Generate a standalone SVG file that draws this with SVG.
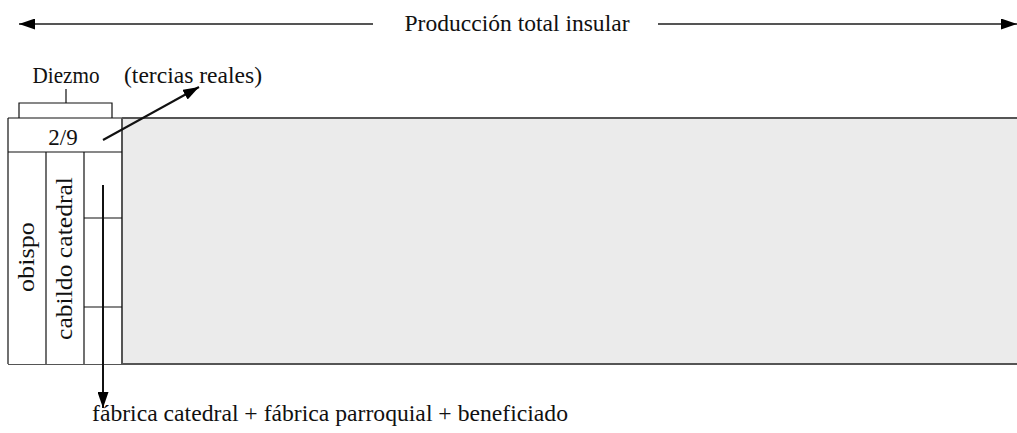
<svg xmlns="http://www.w3.org/2000/svg" width="1017" height="433" viewBox="0 0 1017 433">
<defs>
<style>
text{font-family:"Liberation Serif","DejaVu Serif",serif;fill:#111;}
.t{font-size:23px;}
.frame{stroke:#555;stroke-width:2;fill:none;}
.thin{stroke:#111;stroke-width:1.2;fill:none;}
.conn{stroke:#111;stroke-width:2;fill:none;}
.dim{stroke:#555;stroke-width:2.2;fill:none;}
</style>
<marker id="ah" viewBox="0 0 16 11" refX="16" refY="5.5" markerWidth="16" markerHeight="11" orient="auto" markerUnits="userSpaceOnUse">
<path d="M0,0 L16,5.5 L0,11 z" fill="#000"/>
</marker>
</defs>
<rect width="1017" height="433" fill="#fff"/>

<g id="total">
<line class="dim" x1="373" y1="24" x2="19" y2="24" marker-end="url(#ah)"/>
<line class="dim" x1="658" y1="24" x2="1017" y2="24" marker-end="url(#ah)"/>
<text class="t" x="517" y="31" text-anchor="middle" textLength="225" lengthAdjust="spacingAndGlyphs">Producción total insular</text>
</g>

<g id="produccion">
<rect x="122" y="118" width="900" height="246" fill="#ebebeb"/>
<line class="frame" x1="122" y1="118" x2="1017" y2="118"/>
<line class="frame" x1="8" y1="364" x2="1017" y2="364"/>
</g>

<g id="diezmo">
<rect x="8" y="118" width="114" height="246" fill="#fff"/>
<line class="thin" x1="8" y1="118" x2="122" y2="118"/>
<line class="thin" x1="8" y1="118" x2="8" y2="364"/>
<line class="frame" x1="122" y1="118" x2="122" y2="364"/>
<line class="thin" x1="8" y1="152" x2="122" y2="152"/>
<text class="t" x="63" y="145" text-anchor="middle">2/9</text>
<path class="thin" d="M19,118 V103 H112 V118 M66,103 V89"/>
<text class="t" x="66" y="83" text-anchor="middle" textLength="67" lengthAdjust="spacingAndGlyphs">Diezmo</text>
</g>

<g id="obispo">
<line class="thin" x1="46" y1="152" x2="46" y2="364"/>
<text class="t" transform="translate(34,257) rotate(-90)" text-anchor="middle" textLength="70" lengthAdjust="spacingAndGlyphs">obispo</text>
</g>

<g id="cabildo">
<line class="thin" x1="84" y1="152" x2="84" y2="364"/>
<text class="t" transform="translate(72,258.5) rotate(-90)" text-anchor="middle" textLength="163" lengthAdjust="spacingAndGlyphs">cabildo catedral</text>
</g>

<g id="fabrica">
<line class="thin" x1="84" y1="218" x2="122" y2="218"/>
<line class="thin" x1="84" y1="307" x2="122" y2="307"/>
</g>

<g id="tercias">
<text class="t" x="124" y="83" textLength="138" lengthAdjust="spacingAndGlyphs">(tercias reales)</text>
</g>

<g id="beneficiarios">
<text class="t" x="92" y="421" textLength="476" lengthAdjust="spacingAndGlyphs">fábrica catedral + fábrica parroquial + beneficiado</text>
</g>

<g id="connectors">
<line class="conn" x1="103" y1="140" x2="199" y2="87" stroke-width="1.5" marker-end="url(#ah)"/>
<line class="conn" x1="103" y1="185" x2="103" y2="408" marker-end="url(#ah)"/>
</g>
</svg>
